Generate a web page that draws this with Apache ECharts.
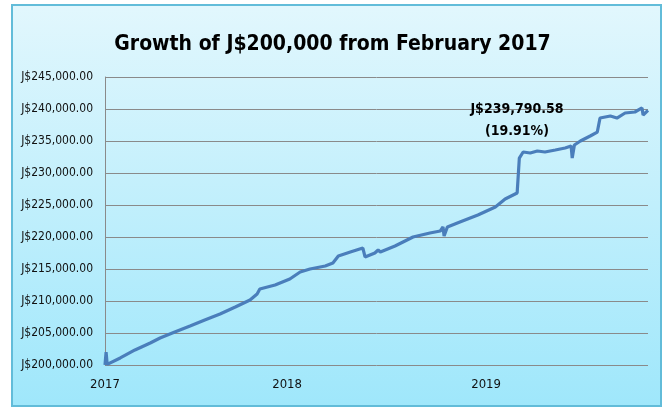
<!DOCTYPE html>
<html>
<head>
<meta charset="utf-8">
<script src="https://cdn.jsdelivr.net/npm/echarts@6/dist/echarts.min.js"></script>
<style>
html,body{margin:0;padding:0;background:#fff;}
#chart{width:665px;height:408px;}
</style>
</head>
<body>
<div id="chart"></div>
<script>
const titleText = 'Growth of J$200,000 from February 2017';
const dates = [
  '2017-02-01','2017-02-03','2017-02-05','2017-03-01','2017-03-28','2017-04-25','2017-05-13','2017-06-09',
  '2017-07-07','2017-08-03','2017-08-31','2017-09-28','2017-10-25','2017-11-07','2017-11-12','2017-12-10',
  '2018-01-06','2018-01-25','2018-02-12','2018-03-12','2018-03-26','2018-04-05','2018-04-27','2018-05-20',
  '2018-05-24','2018-06-11','2018-06-17','2018-06-21','2018-07-18','2018-08-20','2018-09-20','2018-10-09',
  '2018-10-14','2018-10-16','2018-10-22','2018-11-14','2018-12-17','2019-01-18','2019-02-05','2019-02-27',
  '2019-03-03','2019-03-10','2019-03-23','2019-04-05','2019-04-19','2019-05-08','2019-05-26','2019-06-06',
  '2019-06-08','2019-06-12','2019-06-23','2019-07-11','2019-07-24','2019-07-29','2019-08-17','2019-08-29',
  '2019-09-13','2019-10-01','2019-10-14','2019-10-16','2019-10-25'
];
const values = [
  200000,202000,200100,201100,202350,203440,204220,205150,
  206100,207030,207970,209060,210160,211100,211880,212500,
  213440,214530,215000,215470,215940,217030,217660,218280,
  216880,217500,217970,217660,218590,220000,220630,220940,
  221560,220160,221560,222340,223440,224690,225940,226880,
  232340,233280,233125,233440,233280,233590,233900,234220,
  232340,234375,235000,235780,236400,238590,238900,238590,
  239375,239530,240160,239060,239790.58
];
const yTicks = [200000,205000,210000,215000,220000,225000,230000,235000,240000,245000];
const xLabelDates = ['2017-02-01','2018-01-01','2019-01-01'];
const annotationLines = ['J$239,790.58','(19.91%)'];

function ts(d){ return new Date(d + 'T00:00:00Z').getTime(); }
function money(v){
  const s = Math.round(v).toString().replace(/\B(?=(\d{3})+(?!\d))/g, ',');
  return 'J$' + s + '.00';
}
const seriesData = dates.map((d,i)=>[ts(d), values[i]]);
const last = seriesData[seriesData.length-1];

const chart = echarts.init(document.getElementById('chart'));
const font = "'Liberation Sans Narrow','DejaVu Sans Condensed','Roboto',sans-serif";
chart.setOption({
  backgroundColor: '#ffffff',
  animation: false,
  graphic: [{
    type: 'rect', z: -10, silent: true,
    shape: { x: 12, y: 5, width: 649, height: 401 },
    style: {
      fill: new echarts.graphic.LinearGradient(0,0,0,1,[
        {offset:0,color:'#e2f7fd'},{offset:1,color:'#9fe7fb'}
      ]),
      stroke: '#62bcd9', lineWidth: 2
    }
  }],
  title: {
    text: titleText, left: 'center', top: 29,
    textStyle: { fontFamily: font, fontSize: 21, fontWeight: 'bold', color: '#000' }
  },
  grid: { left: 105, right: 17, top: 77, bottom: 43 },
  xAxis: {
    type: 'value',
    min: ts(dates[0]), max: ts(dates[dates.length-1]),
    splitLine: { show: false },
    axisLine: { show: false },
    axisTick: { show: false },
    axisLabel: {
      customValues: xLabelDates.map(ts),
      formatter: v => String(new Date(v).getUTCFullYear()),
      fontFamily: font, fontSize: 13, color: '#111', margin: 13
    }
  },
  yAxis: {
    type: 'value', min: yTicks[0], max: yTicks[yTicks.length-1], interval: yTicks[1]-yTicks[0],
    axisLine: { show: true, lineStyle: { color: '#8a8a8a', width: 1 } },
    axisTick: { show: false },
    splitLine: { show: true, lineStyle: { color: '#8a8a8a', width: 1 } },
    axisLabel: { formatter: money, fontFamily: font, fontSize: 12, color: '#111', margin: 12 }
  },
  series: [{
    type: 'line', data: seriesData, showSymbol: false, symbol: 'none',
    lineStyle: { color: '#4a7ebb', width: 3.2 },
    markPoint: {
      symbol: 'circle', symbolSize: 0,
      data: [{ coord: last, value: last[1] }],
      label: {
        show: true, formatter: annotationLines.join('\n'),
        offset: [-131, 10], fontFamily: font, fontSize: 14, fontWeight: 'bold',
        color: '#000', lineHeight: 22, align: 'center'
      }
    }
  }]
});
</script>
</body>
</html>
